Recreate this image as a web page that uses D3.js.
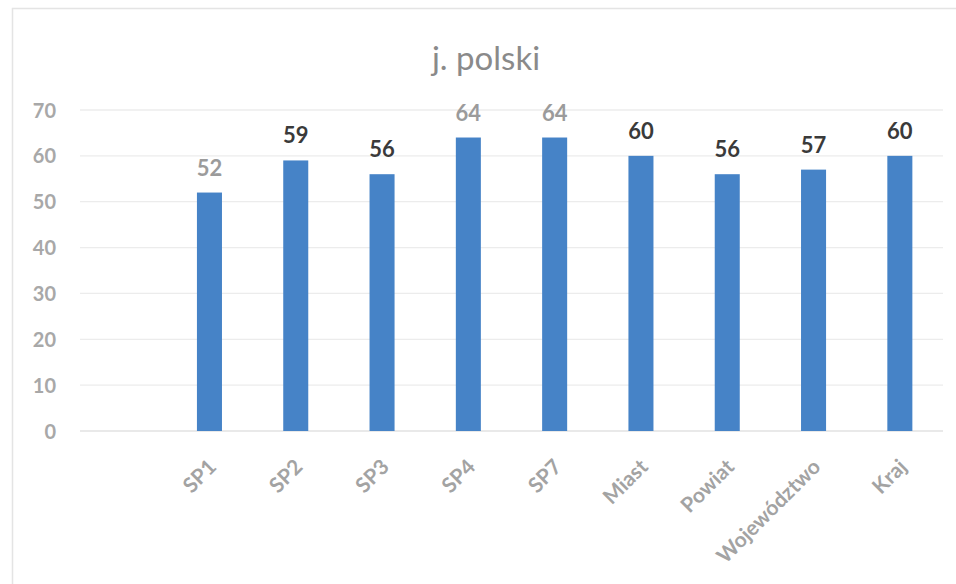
<!DOCTYPE html>
<html>
<head>
<meta charset="utf-8">
<script src="https://cdn.jsdelivr.net/npm/d3@7"></script>
<style>
  html, body { margin: 0; padding: 0; background: #ffffff; }
  svg { display: block; }
</style>
</head>
<body>
<script>
// ---- data ----
const title = "j. polski";
const categories = ["", "SP1", "SP2", "SP3", "SP4", "SP7", "Miast", "Powiat", "Województwo", "Kraj"];
const values = [null, 52, 59, 56, 64, 64, 60, 56, 57, 60];
const labelDark = [false, false, true, true, false, false, true, true, true, true];
const yTicks = [0, 10, 20, 30, 40, 50, 60, 70];

const W = 956, H = 584;
const margin = { left: 80, right: 13, top: 110, bottom: 153 };

const svg = d3.select("body").append("svg").attr("width", W).attr("height", H);

// chart border (scanned frame)
svg.append("rect").attr("x", 12.5).attr("y", 8.5).attr("width", 1000).attr("height", 1000)
  .attr("fill", "none").attr("stroke", "#e4e4e4").attr("stroke-width", 1.5);

const x = d3.scaleBand().domain(categories).range([margin.left, W - margin.right])
  .paddingInner(0.71).paddingOuter(0.355);
const y = d3.scaleLinear().domain([0, 70]).range([H - margin.bottom, margin.top]);

const font = "Lato, 'Open Sans', sans-serif";

// title
svg.append("text").attr("x", 486).attr("y", 70).attr("text-anchor", "middle")
  .attr("font-family", font).attr("font-size", 33).attr("fill", "#8a8a8a").text(title);

// gridlines
svg.append("g").selectAll("line").data(yTicks).join("line")
  .attr("x1", margin.left).attr("x2", W - margin.right)
  .attr("y1", d => y(d)).attr("y2", d => y(d))
  .attr("stroke", d => d === 0 ? "#e2e2e2" : "#ececec").attr("stroke-width", 1.3);

// y axis
const yAxis = d3.axisLeft(y).tickValues(yTicks).tickSize(0).tickPadding(0);
const gy = svg.append("g").attr("transform", `translate(${margin.left - 24},0)`).call(yAxis);
gy.select(".domain").remove();
gy.selectAll("text").attr("font-family", font).attr("font-size", 20).attr("font-weight", 700)
  .attr("fill", "#a8a8a8").attr("dy", "0.35em");

// x axis
const xAxis = d3.axisBottom(x).tickSize(0).tickPadding(0);
const gx = svg.append("g").attr("transform", `translate(0,${H - margin.bottom})`).call(xAxis);
gx.select(".domain").remove();
gx.selectAll("text").attr("font-family", font).attr("font-size", 21).attr("font-weight", 700)
  .attr("fill", "#a3a3a3").attr("text-anchor", "end")
  .attr("transform", "translate(3,32) rotate(-45)").attr("dy", "0.35em");

const data = categories.map((c, i) => ({ c, v: values[i], dark: labelDark[i] })).filter(d => d.v != null);

// bars
svg.append("g").selectAll("rect").data(data).join("rect")
  .attr("x", d => x(d.c)).attr("width", x.bandwidth())
  .attr("y", d => y(d.v)).attr("height", d => y(0) - y(d.v))
  .attr("fill", "#4683c7");

// data labels
svg.append("g").selectAll("text").data(data).join("text")
  .attr("x", d => x(d.c) + x.bandwidth() / 2).attr("y", d => y(d.v) - 17)
  .attr("text-anchor", "middle").attr("font-family", font).attr("font-size", 22)
  .attr("font-weight", 700).attr("fill", d => d.dark ? "#3a3a3a" : "#9b9b9b")
  .text(d => d.v);
</script>
</body>
</html>
